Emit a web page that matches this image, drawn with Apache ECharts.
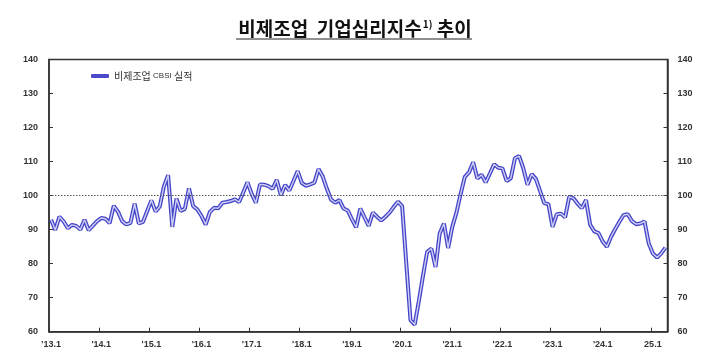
<!DOCTYPE html>
<html>
<head>
<meta charset="utf-8">
<script src="https://cdn.jsdelivr.net/npm/echarts@6/dist/echarts.min.js"></script>
<style>
html,body{margin:0;padding:0;background:#fff;}
#chart{width:710px;height:355px;}
</style>
</head>
<body>
<div id="chart"></div>
<script>
// Monthly categories 2013.1 - 2025.4
const startYear = 2013;
const monthCount = 148;
const categories = [];
for (let i = 0; i < monthCount; i++) {
  categories.push((startYear + Math.floor(i / 12)) + '.' + (i % 12 + 1));
}
// Tick labels shown at each January
const tickLabels = ["'13.1","'14.1","'15.1","'16.1","'17.1","'18.1","'19.1","'20.1","'21.1","'22.1","'23.1","'24.1","25.1"];

// 비제조업 CBSI 실적
const cbsi = [
  92.9, 89.9, 93.8, 92.4, 90.4, 91.4, 91.1, 90.0, 92.9, 89.8, 91.2, 92.5,
  93.4, 93.2, 91.9, 97.0, 95.3, 92.5, 91.5, 92.0, 97.6, 91.8, 92.3, 95.5,
  98.6, 95.3, 96.8, 102.7, 106.0, 90.8, 99.1, 95.5, 96.1, 102.1, 96.9, 95.9,
  94.0, 91.5, 95.2, 96.4, 96.3, 97.9, 98.1, 98.4, 98.9, 98.1, 101.0, 103.9,
  100.5, 97.9, 103.3, 103.2, 102.8, 102.0, 104.6, 100.1, 103.1, 101.5, 104.3, 107.2,
  103.7, 102.9, 103.3, 103.8, 107.8, 105.6, 102.0, 98.8, 97.9, 98.7, 96.2, 95.6,
  93.0, 90.7, 96.2, 93.6, 91.1, 95.0, 93.8, 92.7, 93.8, 95.0, 96.7, 98.2,
  96.9, 80.0, 63.4, 62.1, 69.0, 76.5, 83.5, 84.4, 79.0, 88.9, 91.8, 84.6,
  90.8, 95.0, 100.5, 105.5, 106.8, 109.8, 105.0, 106.1, 103.9, 106.5, 109.2, 108.2,
  108.0, 104.3, 105.1, 111.0, 111.6, 108.0, 103.2, 106.3, 104.9, 101.4, 97.8, 97.5,
  90.8, 94.5, 94.7, 93.6, 99.7, 99.2, 97.6, 96.3, 98.7, 91.4, 89.5, 89.0,
  86.5, 85.0, 87.9, 90.2, 92.3, 94.3, 94.5, 92.5, 91.6, 91.8, 92.4, 86.0,
  83.0, 81.8, 83.0, 84.7
];
const baseline = 100;
const yMin = 60, yMax = 140, yStep = 10;
const seriesName = '비제조업 CBSI 실적';

const chart = echarts.init(document.getElementById('chart'), null, {renderer: 'canvas'});
const axisFont = {fontFamily: 'Liberation Sans', fontWeight: 'bold', fontSize: 9, color: '#333'};
const yAxisCommon = {
  type: 'value', min: yMin, max: yMax, interval: yStep,
  axisLine: {show: true, lineStyle: {color: '#333', width: 1.5}},
  axisTick: {show: true, inside: true, length: 4, lineStyle: {color: '#333'}},
  splitLine: {show: false}
};
chart.setOption({
  animation: false,
  backgroundColor: '#fff',
  title: {
    text: '{t|비제조업  기업심리지수}{s|1)}{t| 추이}',
    left: 'center', top: 14,
    textStyle: {
      rich: {
        t: {fontFamily: 'Noto Sans CJK KR', fontWeight: 'bold', fontSize: 19, color: '#111'},
        s: {fontFamily: 'Noto Sans CJK KR', fontWeight: 'bold', fontSize: 10, color: '#111', verticalAlign: 'top', padding: [0, 0, 8, 1]}
      }
    }
  },
  graphic: [{
    type: 'line', shape: {x1: 236, y1: 39, x2: 472, y2: 39},
    style: {stroke: '#222', lineWidth: 1.2}
  }],
  legend: {
    data: [seriesName],
    left: 86, top: 66,
    icon: 'roundRect', itemWidth: 18, itemHeight: 4, itemGap: 4,
    textStyle: {fontFamily: 'Noto Sans CJK KR', fontSize: 10, color: '#333',
      rich: {s: {fontFamily: 'Liberation Sans', fontSize: 8, color: '#333'}}},
    formatter: function () { return '비제조업 {s|CBSI} 실적'; }
  },
  grid: {left: 49, right: 42.5, top: 59.5, bottom: 23.3, show: true, borderColor: '#333', borderWidth: 1.5},
  xAxis: {
    type: 'category', data: categories, boundaryGap: true,
    axisLine: {show: true, lineStyle: {color: '#333', width: 1.5}},
    axisTick: {show: true, inside: true, length: 4, lineStyle: {color: '#333'},
      interval: function (idx) { return idx % 12 === 0; }},
    axisLabel: Object.assign({}, axisFont, {
      margin: 8,
      interval: function (idx) { return idx % 12 === 0; },
      formatter: function (val, idx) { return tickLabels[Math.floor(idx / 12)]; }
    })
  },
  yAxis: [
    Object.assign({}, yAxisCommon, {position: 'left', axisLabel: Object.assign({}, axisFont, {margin: 11})}),
    Object.assign({}, yAxisCommon, {position: 'right', axisLabel: Object.assign({}, axisFont, {margin: 10})})
  ],
  series: [
    {
      name: seriesName, type: 'line', data: cbsi, yAxisIndex: 0,
      showSymbol: false, symbol: 'none', smooth: false,
      lineStyle: {color: '#4444c8', width: 4},
      itemStyle: {color: '#4b4bcc'},
      z: 3,
      markLine: {
        silent: true, symbol: 'none', label: {show: false},
        lineStyle: {color: '#555', type: [1.5, 1.5], width: 1},
        data: [{yAxis: baseline}]
      }
    },
    {
      name: 'inner', type: 'line', data: cbsi, yAxisIndex: 0,
      showSymbol: false, symbol: 'none', smooth: false,
      lineStyle: {color: '#cfcff5', width: 1.4},
      z: 4, silent: true
    }
  ]
});
</script>
</body>
</html>
